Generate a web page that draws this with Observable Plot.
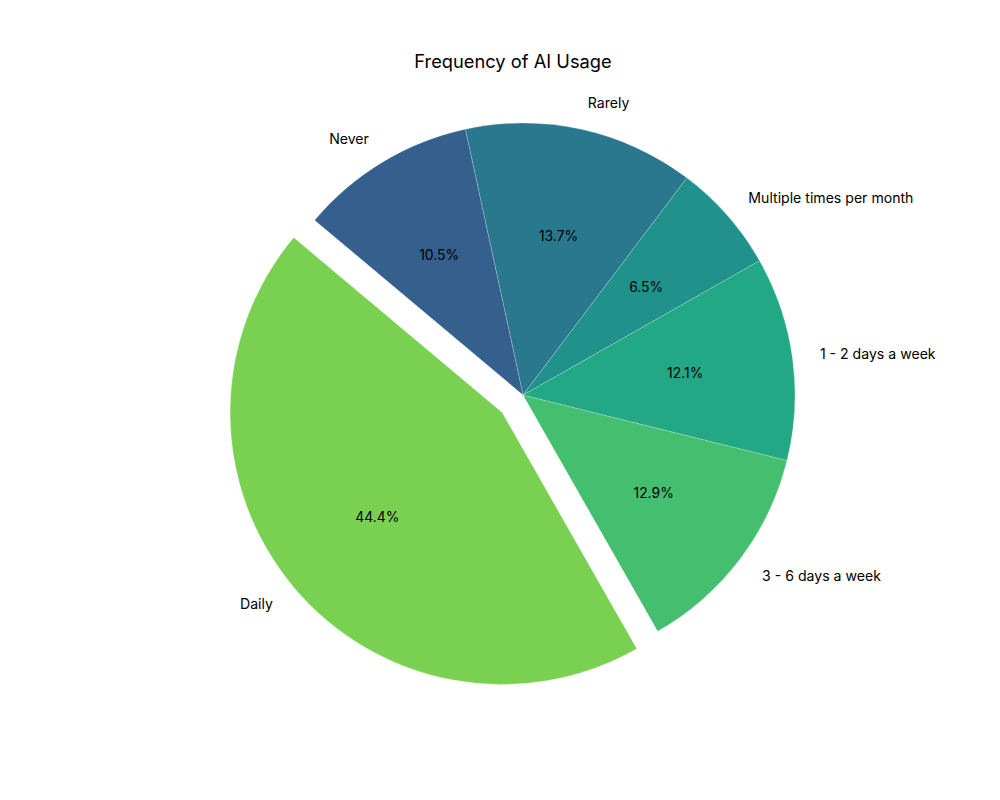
<!DOCTYPE html>
<html>
<head>
<meta charset="utf-8">
<script src="https://cdn.jsdelivr.net/npm/d3@7"></script>
<script src="https://cdn.jsdelivr.net/npm/@observablehq/plot@0.6"></script>
<style>
  html, body { margin: 0; padding: 0; background: #fff; }
  #chart { width: 1000px; height: 800px; }
</style>
</head>
<body>
<div id="chart"></div>
<script>
// ---- data ----
const title = "Frequency of AI Usage";
const categories = ["Daily", "3 - 6 days a week", "1 - 2 days a week", "Multiple times per month", "Rarely", "Never"];
const percents = [44.4, 12.9, 12.1, 6.5, 13.7, 10.5];
const colors = ["#7ad151", "#44bf70", "#22a884", "#21918c", "#2a788e", "#355f8d"];
const explode = [0.1, 0, 0, 0, 0, 0];
const startAngle = 140; // degrees, counter-clockwise from 3 o'clock

// ---- layout ----
const W = 1000, H = 800;
const CX = 523, CY = 395, R = 272; // pie centre and radius in pixels
const FONT = "Inter, 'Open Sans', sans-serif";

// derived slice geometry (unit radius, y up)
const total = d3.sum(percents);
let acc = startAngle;
const slices = categories.map((c, i) => {
  const span = percents[i] / total * 360;
  const t1 = acc, t2 = acc + span;
  acc = t2;
  const mid = (t1 + t2) / 2 * Math.PI / 180;
  const ox = explode[i] * Math.cos(mid), oy = explode[i] * Math.sin(mid);
  return {
    category: c, pct: percents[i], color: colors[i], t1, t2,
    ox, oy,
    lx: ox + 1.1 * Math.cos(mid), ly: oy + 1.1 * Math.sin(mid),
    px: ox + 0.6 * Math.cos(mid), py: oy + 0.6 * Math.sin(mid)
  };
});

const pieMark = (index, scales) => {
  const x0 = scales.x(0), y0 = scales.y(0), rad = scales.x(1) - x0;
  const g = d3.create("svg:g");
  const arc = d3.arc();
  for (const s of slices) {
    g.append("path")
      .attr("d", arc({innerRadius: 0, outerRadius: rad,
        startAngle: (90 - s.t2) * Math.PI / 180,
        endAngle: (90 - s.t1) * Math.PI / 180}))
      .attr("transform", `translate(${x0 + rad * s.ox},${y0 - rad * s.oy})`)
      .attr("fill", s.color)
      .attr("stroke", "#ffffff")
      .attr("stroke-opacity", 0.35)
      .attr("stroke-width", 0.6);
  }
  return g.node();
};

const right = slices.filter(s => s.lx >= 0);
const left = slices.filter(s => s.lx < 0);

const chart = Plot.plot({
  width: W, height: H,
  margin: 0,
  x: {domain: [-CX / R, (W - CX) / R], range: [0, W], axis: null},
  y: {domain: [-(H - CY) / R, CY / R], range: [H, 0], axis: null},
  style: {fontFamily: FONT, background: "#fff"},
  marks: [
    pieMark,
    Plot.text(right, {x: "lx", y: "ly", text: "category", textAnchor: "start", fontSize: 14.1, fill: "#000", fontFamily: FONT}),
    Plot.text(left, {x: "lx", y: "ly", text: "category", textAnchor: "end", fontSize: 14.1, fill: "#000", fontFamily: FONT}),
    Plot.text(slices, {x: "px", y: "py", text: d => d.pct.toFixed(1) + "%", textAnchor: "middle", fontSize: 13.9, fill: "#000", fontFamily: FONT}),
    Plot.text([title], {x: () => (512.5 - CX) / R, y: () => (CY - 62) / R, text: d => d, textAnchor: "middle", fontSize: 18.3, fill: "#000", fontFamily: FONT})
  ]
});
document.getElementById("chart").appendChild(chart);
</script>
</body>
</html>
